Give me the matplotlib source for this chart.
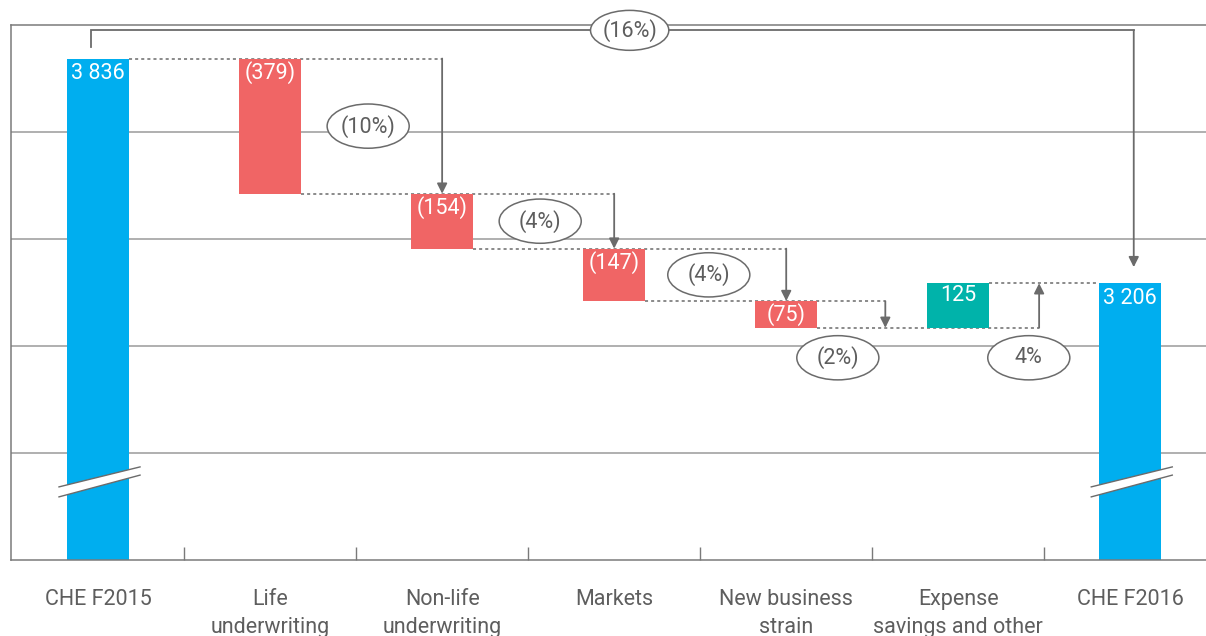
import matplotlib
matplotlib.use("Agg")
import matplotlib.pyplot as plt
import matplotlib.patches as patches

plt.rcParams['font.family'] = ['Roboto', 'DejaVu Sans']

# data
categories = ["CHE F2015", "Life\nunderwriting", "Non-life\nunderwriting", "Markets",
              "New business\nstrain", "Expense\nsavings and other", "CHE F2016"]
start_total = 3836
changes = [-379, -154, -147, -75, 125]
end_total = 3206
pct_labels = ["(10%)", "(4%)", "(4%)", "(2%)", "4%"]
total_pct_label = "(16%)"

# colours / layout
BLUE = '#00AEEF'
RED = '#F06565'
TEAL = '#00B3AA'
LINE = '#6b6b6b'
GRID = '#9a9a9a'
TEXT = '#5e5e5e'
W = 0.36
YMIN, YMAX = 2430, 3930
ARROW_X = [2, 3, 4, 4.576, 5.47]       # x of the step arrows
PCT_X = [1.57, 2.57, 3.55, 4.30, 5.41]  # x of the % bubbles
LOW_PCT_Y = 2997
EW, EH = 0.477, 124
FS = 15.5

levels = [start_total]
for c in changes:
    levels.append(levels[-1] + c)

fig = plt.figure(figsize=(12.06, 6.36), dpi=100)
ax = fig.add_axes([11 / 1206, 76 / 636, 1 - 11 / 1206, 535 / 636])
ax.set_xlim(-0.506, 6.44)
ax.set_ylim(YMIN, YMAX)

# grid / frame
ax.set_yticks([2730, 3030, 3330, 3630])
ax.yaxis.grid(True, color=GRID, lw=1.1)
ax.set_axisbelow(True)
ax.tick_params(axis='y', length=0, labelleft=False)
for s in ['left', 'top', 'bottom']:
    ax.spines[s].set_color('#7a7a7a')
    ax.spines[s].set_linewidth(1.1)
ax.spines['right'].set_visible(False)

ax.set_xticks(range(len(categories)))
ax.set_xticklabels(categories, fontsize=FS, color=TEXT, linespacing=1.45)
ax.tick_params(axis='x', which='major', length=0, pad=21)
ax.set_xticks([i + 0.5 for i in range(len(categories) - 1)], minor=True)
ax.tick_params(axis='x', which='minor', direction='in', length=9.5, width=1, color='#7a7a7a')

# bars
ax.bar(0, start_total, width=W, color=BLUE, zorder=2)
ax.bar(6, end_total, width=W, color=BLUE, zorder=2)
for i, c in enumerate(changes):
    lo = min(levels[i], levels[i + 1])
    ax.bar(i + 1, abs(c), bottom=lo, width=W, color=RED if c < 0 else TEAL, zorder=2)

# value labels
def fmt(v):
    s = f"{abs(v):,}".replace(",", " ")
    return f"({s})" if v < 0 else s

ax.text(0, start_total - 12, fmt(start_total), ha='center', va='top', color='white', fontsize=FS, zorder=6)
ax.text(6, end_total - 12, fmt(end_total), ha='center', va='top', color='white', fontsize=FS, zorder=6)
for i, c in enumerate(changes):
    top = max(levels[i], levels[i + 1])
    ax.text(i + 1, top - 6, fmt(c), ha='center', va='top', color='white', fontsize=FS, zorder=6)

# dotted connectors and arrows
for k in range(len(levels)):
    x0 = k + W / 2
    x1 = k + 1 - W / 2
    if k < len(changes):
        x1 = max(x1, ARROW_X[k])
    ax.plot([x0, x1], [levels[k], levels[k]], color=LINE, lw=1.1, ls=(0, (2, 2)), zorder=1.5)

arrow_kw = dict(arrowstyle='-|>', mutation_scale=15, color=LINE, lw=1.3, shrinkA=0, shrinkB=0)
for i in range(len(changes)):
    ax.annotate('', xy=(ARROW_X[i], levels[i + 1]), xytext=(ARROW_X[i], levels[i]),
                arrowprops=arrow_kw, zorder=3)

# % bubbles
for i, lab in enumerate(pct_labels):
    y = (levels[i] + levels[i + 1]) / 2 if i < 3 else LOW_PCT_Y
    ax.add_patch(patches.Ellipse((PCT_X[i], y), EW, EH, facecolor='white',
                                 edgecolor=LINE, lw=1.1, zorder=4))
    ax.text(PCT_X[i], y, lab, ha='center', va='center', color=TEXT, fontsize=FS, zorder=5)

# overall bracket
top_y = 3915
ax.plot([-0.04, -0.04, 6.02], [3867, top_y, top_y], color=LINE, lw=1.3, zorder=3,
        clip_on=False, solid_joinstyle='miter')
ax.annotate('', xy=(6.02, end_total + 45), xytext=(6.02, top_y), arrowprops=arrow_kw, zorder=3)
ax.add_patch(patches.Ellipse((3.09, top_y), 0.455, 112, facecolor='white',
                             edgecolor=LINE, lw=1.1, zorder=4, clip_on=False))
ax.text(3.09, top_y, total_pct_label, ha='center', va='center', color=TEXT, fontsize=FS, zorder=5)

# axis break marks on the total bars
for xc in [0, 6]:
    xl, xr = xc - 0.227, xc + 0.244
    ax.add_patch(patches.Polygon([(xl, 2635), (xr, 2691), (xr, 2668), (xl, 2607)],
                                 closed=True, facecolor='white', edgecolor='none', zorder=5))
    ax.plot([xl, xr], [2635, 2691], color=LINE, lw=1, zorder=6)
    ax.plot([xl, xr], [2607, 2668], color=LINE, lw=1, zorder=6)

fig.savefig('out.png', dpi=100)
